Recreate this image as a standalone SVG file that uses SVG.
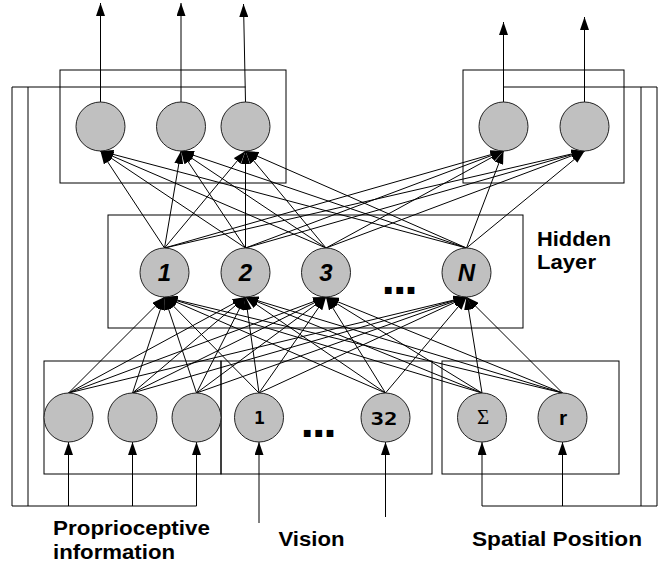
<svg xmlns="http://www.w3.org/2000/svg" width="670" height="567" viewBox="0 0 670 567">
<defs>
<marker id="ah" markerWidth="13" markerHeight="9" refX="13" refY="4.5" orient="auto" markerUnits="userSpaceOnUse"><path d="M0,0 L13,4.5 L0,9 z" fill="#000"/></marker>
<style>
.box{fill:none;stroke:#000;stroke-width:1}
.node{fill:#c0c0c0;stroke:#222;stroke-width:1}
.ln{stroke:#000;stroke-width:1;fill:none}
.arr{stroke:#000;stroke-width:1;fill:none;marker-end:url(#ah)}
.lbl{font-family:"Liberation Sans",Arial,sans-serif;font-weight:bold;font-size:20px;fill:#000}
.hid{font-family:"Liberation Sans",Arial,sans-serif;font-weight:bold;font-style:italic;font-size:24px;fill:#000;text-anchor:middle}
.mono{font-family:"DejaVu Sans Mono","Liberation Mono",monospace;font-size:18px;fill:#000;text-anchor:middle}
.dots{font-family:"DejaVu Sans",sans-serif;font-weight:bold;font-size:38px;fill:#000;letter-spacing:-3px}
</style>
</defs>
<rect width="670" height="567" fill="#fff"/>

<g id="boxes">
<rect id="box-out-left" class="box" x="60" y="70" width="226" height="113"/>
<rect id="box-out-right" class="box" x="463" y="70" width="161" height="113"/>
<rect id="box-hidden" class="box" x="108" y="215" width="415" height="113"/>
<rect id="box-proprio" class="box" x="44" y="361" width="177" height="113"/>
<rect id="box-vision" class="box" x="221" y="361" width="211" height="113"/>
<rect id="box-spatial" class="box" x="442" y="361" width="177" height="113"/>
</g>

<g id="connectors">
<path class="ln" d="M245.5,87 H12 V506 H196.5"/>
<path class="ln" d="M28,87 V506"/>
<path class="ln" d="M503.5,87 H657 V506 H482"/>
<path class="ln" d="M641,87 V506"/>
<line class="arr" x1="100.5" y1="102" x2="100.5" y2="3"/>
<line class="arr" x1="181" y1="102" x2="181" y2="3"/>
<line class="arr" x1="245.5" y1="102" x2="243.5" y2="4"/>
<line class="arr" x1="503.5" y1="102" x2="503.5" y2="22"/>
<line class="arr" x1="584.5" y1="102" x2="584.5" y2="17"/>
<line class="arr" x1="68.5" y1="506" x2="68.5" y2="442"/>
<line class="arr" x1="132.5" y1="506" x2="132.5" y2="442"/>
<line class="arr" x1="196.5" y1="506" x2="196.5" y2="442"/>
<line class="arr" x1="259" y1="523" x2="259" y2="442"/>
<line class="arr" x1="385.5" y1="517" x2="385.5" y2="442"/>
<line class="arr" x1="482" y1="506" x2="482" y2="442"/>
<line class="arr" x1="562.5" y1="506" x2="562.5" y2="442"/>
<line class="arr" x1="164.5" y1="248" x2="100.5" y2="151"/>
<line class="arr" x1="164.5" y1="248" x2="181" y2="151"/>
<line class="arr" x1="164.5" y1="248" x2="245.5" y2="151"/>
<line class="arr" x1="164.5" y1="248" x2="503.5" y2="151"/>
<line class="arr" x1="164.5" y1="248" x2="584.5" y2="151"/>
<line class="arr" x1="245.5" y1="248" x2="100.5" y2="151"/>
<line class="arr" x1="245.5" y1="248" x2="181" y2="151"/>
<line class="arr" x1="245.5" y1="248" x2="245.5" y2="151"/>
<line class="arr" x1="245.5" y1="248" x2="503.5" y2="151"/>
<line class="arr" x1="245.5" y1="248" x2="584.5" y2="151"/>
<line class="arr" x1="326" y1="248" x2="100.5" y2="151"/>
<line class="arr" x1="326" y1="248" x2="181" y2="151"/>
<line class="arr" x1="326" y1="248" x2="245.5" y2="151"/>
<line class="arr" x1="326" y1="248" x2="503.5" y2="151"/>
<line class="arr" x1="326" y1="248" x2="584.5" y2="151"/>
<line class="arr" x1="466.5" y1="248" x2="100.5" y2="151"/>
<line class="arr" x1="466.5" y1="248" x2="181" y2="151"/>
<line class="arr" x1="466.5" y1="248" x2="245.5" y2="151"/>
<line class="arr" x1="466.5" y1="248" x2="503.5" y2="151"/>
<line class="arr" x1="466.5" y1="248" x2="584.5" y2="151"/>
<line class="arr" x1="68.5" y1="393" x2="164.5" y2="297"/>
<line class="arr" x1="68.5" y1="393" x2="245.5" y2="297"/>
<line class="arr" x1="68.5" y1="393" x2="326" y2="297"/>
<line class="arr" x1="68.5" y1="393" x2="466.5" y2="297"/>
<line class="arr" x1="132.5" y1="393" x2="164.5" y2="297"/>
<line class="arr" x1="132.5" y1="393" x2="245.5" y2="297"/>
<line class="arr" x1="132.5" y1="393" x2="326" y2="297"/>
<line class="arr" x1="132.5" y1="393" x2="466.5" y2="297"/>
<line class="arr" x1="196.5" y1="393" x2="164.5" y2="297"/>
<line class="arr" x1="196.5" y1="393" x2="245.5" y2="297"/>
<line class="arr" x1="196.5" y1="393" x2="326" y2="297"/>
<line class="arr" x1="196.5" y1="393" x2="466.5" y2="297"/>
<line class="arr" x1="259" y1="393" x2="164.5" y2="297"/>
<line class="arr" x1="259" y1="393" x2="245.5" y2="297"/>
<line class="arr" x1="259" y1="393" x2="326" y2="297"/>
<line class="arr" x1="259" y1="393" x2="466.5" y2="297"/>
<line class="arr" x1="385.5" y1="393" x2="164.5" y2="297"/>
<line class="arr" x1="385.5" y1="393" x2="245.5" y2="297"/>
<line class="arr" x1="385.5" y1="393" x2="326" y2="297"/>
<line class="arr" x1="385.5" y1="393" x2="466.5" y2="297"/>
<line class="arr" x1="482" y1="393" x2="164.5" y2="297"/>
<line class="arr" x1="482" y1="393" x2="245.5" y2="297"/>
<line class="arr" x1="482" y1="393" x2="326" y2="297"/>
<line class="arr" x1="482" y1="393" x2="466.5" y2="297"/>
<line class="arr" x1="562.5" y1="393" x2="164.5" y2="297"/>
<line class="arr" x1="562.5" y1="393" x2="245.5" y2="297"/>
<line class="arr" x1="562.5" y1="393" x2="326" y2="297"/>
<line class="arr" x1="562.5" y1="393" x2="466.5" y2="297"/>
</g>

<g id="out1"><circle class="node" cx="100.5" cy="126.5" r="24.5"/></g>
<g id="out2"><circle class="node" cx="181" cy="126.5" r="24.5"/></g>
<g id="out3"><circle class="node" cx="245.5" cy="126.5" r="24.5"/></g>
<g id="out4"><circle class="node" cx="503.5" cy="126.5" r="24.5"/></g>
<g id="out5"><circle class="node" cx="584.5" cy="126.5" r="24.5"/></g>

<g id="hid1"><circle class="node" cx="164.5" cy="272.5" r="24.5"/><text class="hid" x="164.5" y="281">1</text></g>
<g id="hid2"><circle class="node" cx="245.5" cy="272.5" r="24.5"/><text class="hid" x="245.5" y="281">2</text></g>
<g id="hid3"><circle class="node" cx="326" cy="272.5" r="24.5"/><text class="hid" x="326" y="281">3</text></g>
<g id="hidN"><circle class="node" cx="466.5" cy="272.5" r="24.5"/><text class="hid" x="466.5" y="281">N</text></g>
<text class="dots" x="381" y="293.5">...</text>

<g id="in-p1"><circle class="node" cx="68.5" cy="417.5" r="24.5"/></g>
<g id="in-p2"><circle class="node" cx="132.5" cy="417.5" r="24.5"/></g>
<g id="in-p3"><circle class="node" cx="196.5" cy="417.5" r="24.5"/></g>
<g id="in-v1"><circle class="node" cx="259" cy="417.5" r="24.5"/><text class="mono" x="259.5" y="424" font-weight="bold">1</text></g>
<text class="dots" x="300" y="437">...</text>
<g id="in-v32"><circle class="node" cx="385.5" cy="417.5" r="24.5"/><text class="mono" x="384" y="424.5" font-weight="bold" textLength="27" lengthAdjust="spacingAndGlyphs">32</text></g>
<g id="in-sigma"><circle class="node" cx="482" cy="417.5" r="24.5"/><text x="483" y="424" font-family="'Liberation Serif',serif" font-size="21" text-anchor="middle">Σ</text></g>
<g id="in-r"><circle class="node" cx="562.5" cy="417.5" r="24.5"/><text x="563" y="424.5" font-family="'Liberation Sans',Arial,sans-serif" font-weight="bold" font-size="21" text-anchor="middle">r</text></g>

<g id="labels">
<text x="537" y="246" font-family="'Liberation Sans',Arial,sans-serif" font-weight="bold" font-size="21" textLength="74" lengthAdjust="spacingAndGlyphs">Hidden</text>
<text x="537" y="268.5" font-family="'Liberation Sans',Arial,sans-serif" font-weight="bold" font-size="21" textLength="59" lengthAdjust="spacingAndGlyphs">Layer</text>
<text class="lbl" x="53" y="535" textLength="157" lengthAdjust="spacingAndGlyphs">Proprioceptive</text>
<text class="lbl" x="53" y="559" textLength="122" lengthAdjust="spacingAndGlyphs">information</text>
<text class="lbl" x="278.5" y="545.5" textLength="66" lengthAdjust="spacingAndGlyphs">Vision</text>
<text class="lbl" x="472" y="545.5" textLength="170" lengthAdjust="spacingAndGlyphs">Spatial Position</text>
</g>
</svg>
